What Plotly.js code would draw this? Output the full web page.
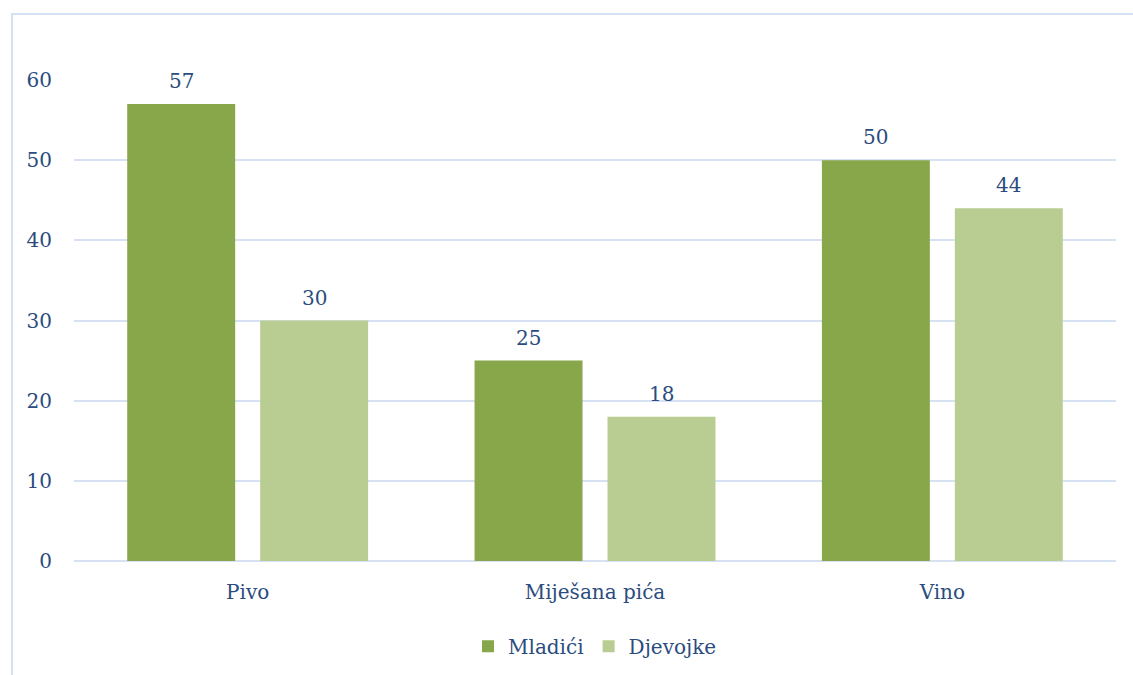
<!DOCTYPE html>
<html>
<head>
<meta charset="utf-8">
<script src="https://cdn.plot.ly/plotly-3.0.1.min.js"></script>
<style>
html,body{margin:0;padding:0;background:#fff;}
#wrap{position:relative;width:1133px;height:675px;overflow:hidden;}
#chart{position:absolute;left:0;top:0;width:1133px;height:675px;}
#frame{position:absolute;left:11px;top:13px;width:1140px;height:700px;border:2px solid #D6E2F3;pointer-events:none;box-sizing:border-box;}
</style>
</head>
<body>
<div id="wrap">
<div id="chart"></div>
<div id="frame"></div>
</div>
<script>
const categories = ["Pivo", "Miješana pića", "Vino"];
const mladici = [57, 25, 50];
const djevojke = [30, 18, 44];
const seriesNames = ["Mladići", "Djevojke"];

const FONT = "DejaVu Serif, Liberation Serif, serif";
const TXT = "#2B4C7E";
const FS = 20;

const traces = [
  {type: "bar", name: seriesNames[0], x: categories, y: mladici,
   marker: {color: "#88A64A"}, hoverinfo: "x+y"},
  {type: "bar", name: seriesNames[1], x: categories, y: djevojke,
   marker: {color: "#B9CD93"}, hoverinfo: "x+y"}
];

const annotations = [];
[mladici, djevojke].forEach((vals, s) => {
  vals.forEach((v, i) => {
    annotations.push({
      x: categories[i], y: v, xref: "x", yref: "y",
      text: String(v), showarrow: false,
      xshift: s === 0 ? -66.5 : 66.5, yshift: 9,
      yanchor: "bottom",
      font: {family: FONT, size: FS, color: TXT}
    });
  });
});

const layout = {
  width: 1133, height: 675,
  margin: {l: 74, r: 17, t: 80, b: 114, autoexpand: false},
  paper_bgcolor: "#ffffff", plot_bgcolor: "#ffffff",
  barmode: "group", bargap: 0.2345, bargroupgap: 0.188,
  font: {family: FONT, size: FS, color: TXT},
  xaxis: {
    type: "category", showgrid: false, zeroline: false,
    showline: false, ticks: "", ticklabelstandoff: 17,
    tickfont: {family: FONT, size: FS, color: TXT}
  },
  yaxis: {
    range: [0, 60], dtick: 10, tick0: 0,
    showgrid: true, gridcolor: "#D6E2F3", gridwidth: 2,
    zeroline: true, zerolinecolor: "#D6E2F3", zerolinewidth: 2,
    showline: false, ticks: "", ticklabelstandoff: 21,
    tickfont: {family: FONT, size: FS, color: TXT}
  },
  showlegend: true,
  legend: {
    orientation: "h", x: 0.5, xanchor: "center", y: -0.177, yanchor: "middle",
    font: {family: FONT, size: FS, color: TXT},
    itemclick: false, traceorder: "normal"
  },
  annotations: annotations
};

Plotly.newPlot("chart", traces, layout, {displayModeBar: false, staticPlot: true});
</script>
</body>
</html>
